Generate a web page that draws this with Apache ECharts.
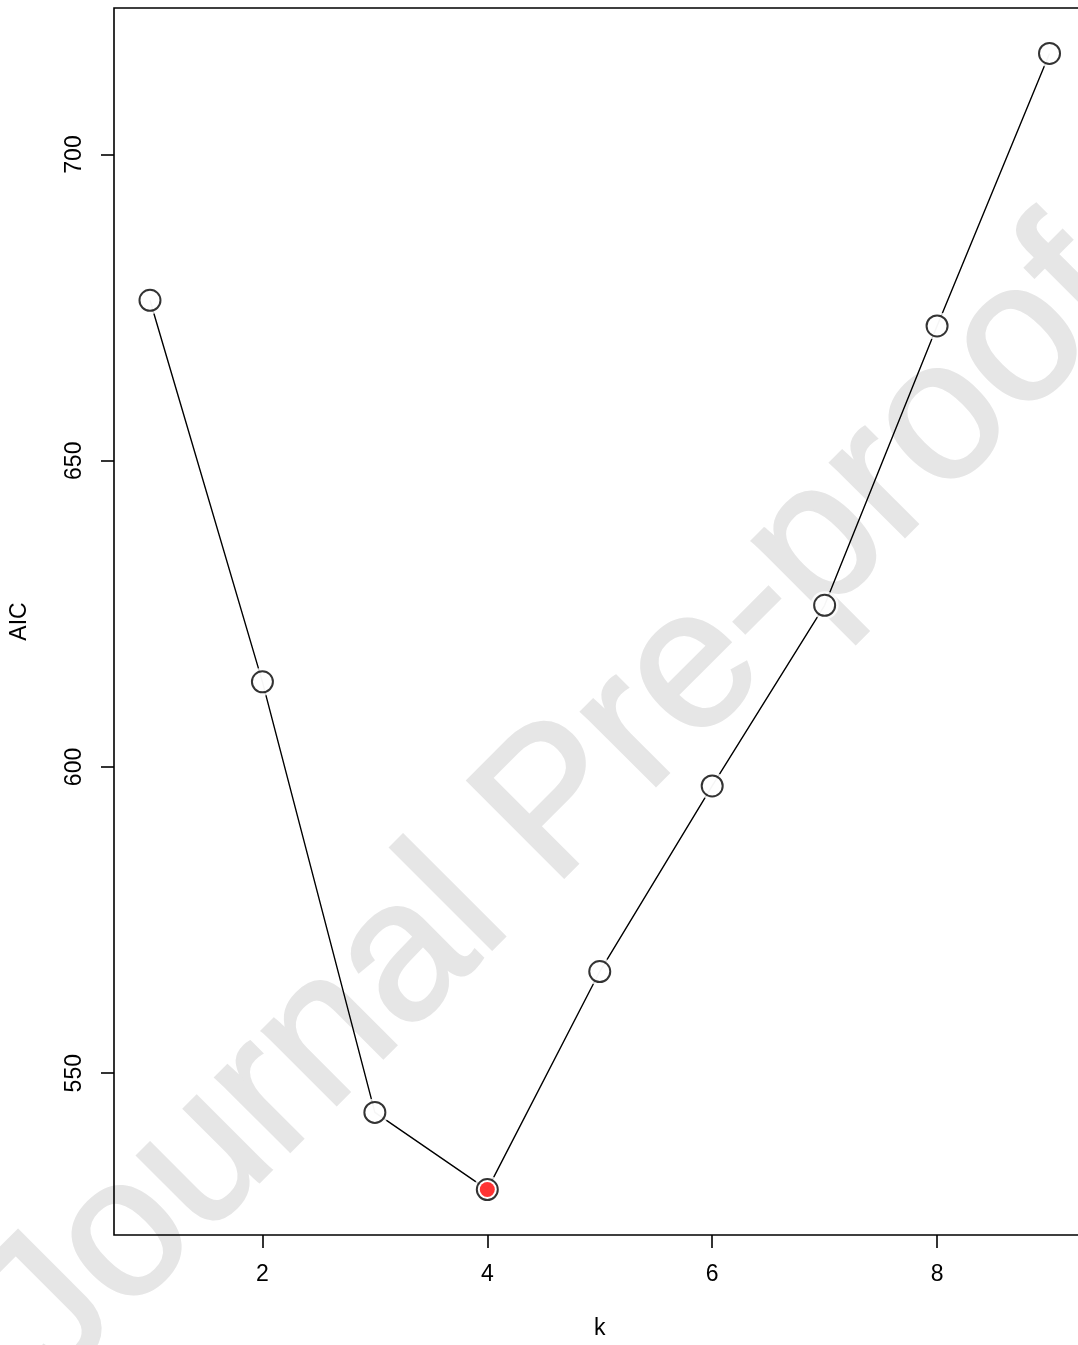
<!DOCTYPE html>
<html>
<head>
<meta charset="utf-8">
<script src="https://cdn.jsdelivr.net/npm/echarts@6/dist/echarts.min.js"></script>
<style>
  html, body { margin: 0; padding: 0; background: #fff; overflow: hidden; }
  /* the plot box runs a few pixels past the right edge of the window */
  #chart { width: 1086px; height: 1345px; }
</style>
</head>
<body>
<div id="chart"></div>
<script>
// Number of clusters tried and the AIC of each fit
const kValues = [1, 2, 3, 4, 5, 6, 7, 8, 9];
const aicValues = [676.2, 613.9, 543.6, 531.0, 566.6, 596.9, 626.4, 672.0, 716.5];
const bestK = 4;

// Tick labels on each axis
const xTicks = [2, 4, 6, 8];
const yTicks = [550, 600, 650, 700];

const points = kValues.map((k, i) => [k, aicValues[i]]);
const bestPoint = points.filter(p => p[0] === bestK);

// 4% padding on each side of the data range
const xMin = Math.min(...kValues), xMax = Math.max(...kValues);
const yMin = Math.min(...aicValues), yMax = Math.max(...aicValues);
const xPad = (xMax - xMin) * 0.04, yPad = (yMax - yMin) * 0.04;

const FONT = '"Liberation Sans", Arial, Helvetica, sans-serif';
const chart = echarts.init(document.getElementById('chart'), null, { renderer: 'canvas' });

chart.setOption({
  animation: false,
  backgroundColor: '#ffffff',
  graphic: [{
    type: 'text',
    z: -10,
    x: 557,
    y: 807,
    rotation: Math.PI / 4,
    silent: true,
    style: {
      text: 'Journal Pre-proof',
      fill: '#e6e6e6',
      stroke: '#e6e6e6',
      lineWidth: 3,
      font: '198px ' + FONT,
      textAlign: 'center',
      textVerticalAlign: 'middle'
    }
  }],
  grid: {
    left: 114, top: 8, right: 0.5, bottom: 109,
    show: true, borderColor: '#000', borderWidth: 1.6,
    backgroundColor: 'transparent', containLabel: false
  },
  xAxis: {
    type: 'value',
    min: xMin - xPad, max: xMax + xPad,
    name: 'k', nameLocation: 'middle', nameGap: 82,
    nameTextStyle: { color: '#000', fontSize: 23, fontFamily: FONT },
    axisLine: { show: false },
    splitLine: { show: false },
    axisTick: { show: true, inside: false, length: 13, customValues: xTicks,
      lineStyle: { color: '#000', width: 1.6 } },
    axisLabel: { show: true, margin: 28, customValues: xTicks,
      color: '#000', fontSize: 23, fontFamily: FONT }
  },
  yAxis: {
    type: 'value',
    min: yMin - yPad, max: yMax + yPad,
    name: 'AIC', nameLocation: 'middle', nameGap: 83, nameRotate: 90,
    nameTextStyle: { color: '#000', fontSize: 23, fontFamily: FONT },
    axisLine: { show: false },
    splitLine: { show: false },
    axisTick: { show: true, inside: false, length: 13, customValues: yTicks,
      lineStyle: { color: '#000', width: 1.6 } },
    axisLabel: { show: true, margin: 28, rotate: 90, customValues: yTicks,
      color: '#000', fontSize: 23, fontFamily: FONT }
  },
  series: [
    {
      type: 'line', data: points, z: 2,
      showSymbol: false, symbol: 'none',
      lineStyle: { color: '#000', width: 1.4 }
    },
    { // white halo leaving a small gap between the line and each point
      type: 'scatter', data: points, z: 3,
      symbol: 'circle', symbolSize: 28,
      itemStyle: { color: '#fff', borderWidth: 0 }
    },
    {
      type: 'scatter', data: points, z: 4,
      symbol: 'circle', symbolSize: 21,
      itemStyle: { color: '#fff', borderColor: '#000', borderWidth: 2 }
    },
    { // chosen number of clusters
      type: 'scatter', data: bestPoint, z: 5,
      symbol: 'circle', symbolSize: 15,
      itemStyle: { color: '#ff0000', borderWidth: 0 }
    }
  ]
});
</script>
</body>
</html>
